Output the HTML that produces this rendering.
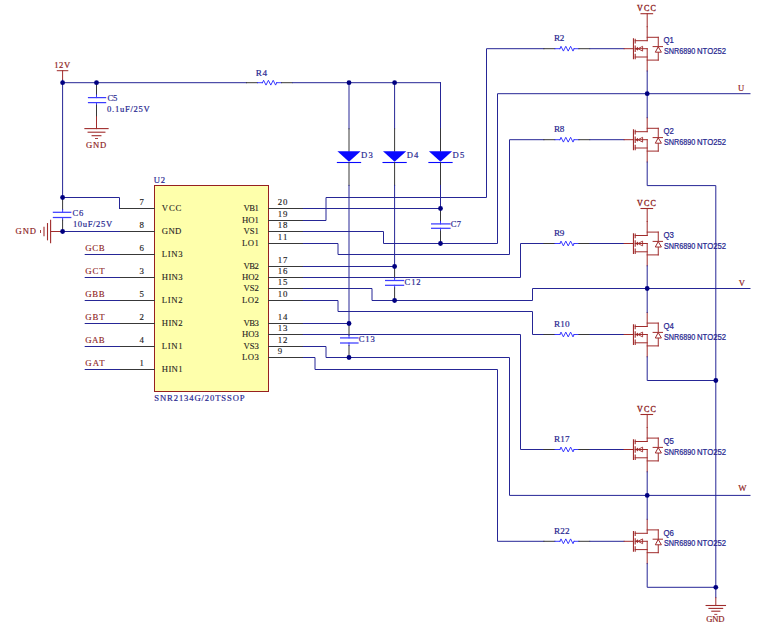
<!DOCTYPE html>
<html><head><meta charset="utf-8"><style>
html,body{margin:0;padding:0;background:#fff;}
svg{display:block;}
</style></head><body>
<svg width="763" height="631" viewBox="0 0 763 631">
<rect width="763" height="631" fill="#ffffff"/>
<text x="54.3" y="67.9" fill="#8c2020" font-size="8.6" font-family="Liberation Serif" textLength="15.8" lengthAdjust="spacing" stroke="#8c2020" stroke-width="0.18">12V</text>
<line x1="57.3" y1="70.7" x2="67.8" y2="70.7" stroke="#a02c2c" stroke-width="1.0" stroke-linecap="square"/>
<line x1="62.6" y1="70.7" x2="62.6" y2="80.2" stroke="#a02c2c" stroke-width="1.0" stroke-linecap="square"/>
<line x1="62.6" y1="80.2" x2="62.6" y2="82.7" stroke="#262696" stroke-width="1.0" stroke-linecap="square"/>
<line x1="62.6" y1="82.7" x2="246.5" y2="82.7" stroke="#262696" stroke-width="1.0" stroke-linecap="square"/>
<line x1="246.5" y1="82.7" x2="257.5" y2="82.7" stroke="#383838" stroke-width="1.0" stroke-linecap="square"/>
<line x1="257.5" y1="82.7" x2="262.5" y2="82.7" stroke="#2424ff" stroke-width="0.9" stroke-linecap="square"/>
<polyline points="262.5,82.7 263.6,80.3 266.0,85.10000000000001 268.4,80.3 270.8,85.10000000000001 273.2,80.3 275.6,85.10000000000001 276.7,82.7" fill="none" stroke="#2424ff" stroke-width="0.9" stroke-linejoin="miter" stroke-linecap="square"/>
<line x1="276.7" y1="82.7" x2="281.5" y2="82.7" stroke="#2424ff" stroke-width="0.9" stroke-linecap="square"/>
<line x1="281.5" y1="82.7" x2="292.3" y2="82.7" stroke="#383838" stroke-width="1.0" stroke-linecap="square"/>
<line x1="292.6" y1="82.7" x2="440.5" y2="82.7" stroke="#262696" stroke-width="1.0" stroke-linecap="square"/>
<text x="255.7" y="75.8" fill="#26268f" font-size="9.2" font-family="Liberation Serif" textLength="11.3" lengthAdjust="spacing" stroke="#26268f" stroke-width="0.18">R4</text>
<line x1="62.6" y1="82.7" x2="62.6" y2="197.5" stroke="#262696" stroke-width="1.0" stroke-linecap="square"/>
<line x1="96.5" y1="82.7" x2="96.5" y2="95.0" stroke="#383838" stroke-width="1.0" stroke-linecap="square"/>
<line x1="96.5" y1="95.0" x2="96.5" y2="97.6" stroke="#2424ff" stroke-width="0.9" stroke-linecap="square"/>
<line x1="96.5" y1="102.6" x2="96.5" y2="105.19999999999999" stroke="#2424ff" stroke-width="0.9" stroke-linecap="square"/>
<line x1="96.5" y1="105.19999999999999" x2="96.5" y2="116.8" stroke="#383838" stroke-width="1.0" stroke-linecap="square"/>
<line x1="87.9" y1="97.6" x2="106.2" y2="97.6" stroke="#3c3cff" stroke-width="1.25" stroke-linecap="butt"/>
<line x1="87.9" y1="102.6" x2="106.2" y2="102.6" stroke="#3c3cff" stroke-width="1.25" stroke-linecap="butt"/>
<line x1="96.5" y1="116.8" x2="96.5" y2="128.6" stroke="#a02c2c" stroke-width="1.0" stroke-linecap="square"/>
<line x1="84.9" y1="128.6" x2="108.1" y2="128.6" stroke="#a02c2c" stroke-width="1.1" stroke-linecap="square"/>
<line x1="88.1" y1="132.2" x2="104.9" y2="132.2" stroke="#a02c2c" stroke-width="1.1" stroke-linecap="square"/>
<line x1="92.1" y1="135.7" x2="100.9" y2="135.7" stroke="#a02c2c" stroke-width="1.1" stroke-linecap="square"/>
<line x1="95.5" y1="138.5" x2="97.5" y2="138.5" stroke="#a02c2c" stroke-width="0.9" stroke-linecap="square"/>
<text x="85.9" y="148.4" fill="#8c2020" font-size="8.6" font-family="Liberation Serif" textLength="20.3" lengthAdjust="spacing" stroke="#8c2020" stroke-width="0.18">GND</text>
<text x="107.4" y="101.3" fill="#26268f" font-size="8.6" font-family="Liberation Serif" textLength="9.9" lengthAdjust="spacing" stroke="#26268f" stroke-width="0.18">C5</text>
<text x="107.0" y="112.4" fill="#26268f" font-size="8.6" font-family="Liberation Serif" textLength="42.8" lengthAdjust="spacing" stroke="#26268f" stroke-width="0.18">0.1uF/25V</text>
<line x1="62.6" y1="197.5" x2="62.6" y2="209.70000000000002" stroke="#383838" stroke-width="1.0" stroke-linecap="square"/>
<line x1="62.6" y1="209.70000000000002" x2="62.6" y2="212.3" stroke="#2424ff" stroke-width="0.9" stroke-linecap="square"/>
<line x1="62.6" y1="217.5" x2="62.6" y2="220.1" stroke="#2424ff" stroke-width="0.9" stroke-linecap="square"/>
<line x1="62.6" y1="220.1" x2="62.6" y2="231.5" stroke="#383838" stroke-width="1.0" stroke-linecap="square"/>
<line x1="52.8" y1="212.3" x2="71.4" y2="212.3" stroke="#3c3cff" stroke-width="1.25" stroke-linecap="butt"/>
<line x1="52.8" y1="217.5" x2="71.4" y2="217.5" stroke="#3c3cff" stroke-width="1.25" stroke-linecap="butt"/>
<line x1="62.6" y1="231.5" x2="51" y2="231.5" stroke="#a02c2c" stroke-width="1.0" stroke-linecap="square"/>
<line x1="50.6" y1="220.3" x2="50.6" y2="242.8" stroke="#a02c2c" stroke-width="1.1" stroke-linecap="square"/>
<line x1="47.5" y1="223.6" x2="47.5" y2="239.8" stroke="#a02c2c" stroke-width="1.1" stroke-linecap="square"/>
<line x1="44.0" y1="227.2" x2="44.0" y2="235.8" stroke="#a02c2c" stroke-width="1.1" stroke-linecap="square"/>
<line x1="40.5" y1="230.5" x2="40.5" y2="232.5" stroke="#a02c2c" stroke-width="0.9" stroke-linecap="square"/>
<text x="15.5" y="234.4" fill="#8c2020" font-size="8.6" font-family="Liberation Serif" textLength="20.5" lengthAdjust="spacing" stroke="#8c2020" stroke-width="0.18">GND</text>
<text x="72.6" y="216.4" fill="#26268f" font-size="8.6" font-family="Liberation Serif" textLength="10.8" lengthAdjust="spacing" stroke="#26268f" stroke-width="0.18">C6</text>
<text x="72.9" y="227.4" fill="#26268f" font-size="8.6" font-family="Liberation Serif" textLength="39.3" lengthAdjust="spacing" stroke="#26268f" stroke-width="0.18">10uF/25V</text>
<rect x="154.5" y="185.5" width="114" height="206" fill="#feffab" stroke="#962020" stroke-width="1.0"/>
<text x="153.8" y="183.2" fill="#26268f" font-size="8.6" font-family="Liberation Serif" textLength="11.2" lengthAdjust="spacing" stroke="#26268f" stroke-width="0.18">U2</text>
<text x="154.3" y="401.4" fill="#26268f" font-size="8.6" font-family="Liberation Serif" textLength="90.3" lengthAdjust="spacing" stroke="#26268f" stroke-width="0.18">SNR2134G/20TSSOP</text>
<line x1="119.5" y1="208.5" x2="154.5" y2="208.5" stroke="#383838" stroke-width="1.0" stroke-linecap="square"/>
<text x="161.8" y="211.1" fill="#1e1e1e" font-size="8.7" font-family="Liberation Serif" textLength="19.6" lengthAdjust="spacing" stroke="#1e1e1e" stroke-width="0.12">VCC</text>
<text x="139.5" y="205.3" fill="#1e1e1e" font-size="8.8" font-family="Liberation Serif" stroke="#1e1e1e" stroke-width="0.15">7</text>
<line x1="119.5" y1="231.5" x2="154.5" y2="231.5" stroke="#383838" stroke-width="1.0" stroke-linecap="square"/>
<text x="161.8" y="234.1" fill="#1e1e1e" font-size="8.7" font-family="Liberation Serif" textLength="19.6" lengthAdjust="spacing" stroke="#1e1e1e" stroke-width="0.12">GND</text>
<text x="139.5" y="228.3" fill="#1e1e1e" font-size="8.8" font-family="Liberation Serif" stroke="#1e1e1e" stroke-width="0.15">8</text>
<line x1="119.5" y1="254.5" x2="154.5" y2="254.5" stroke="#383838" stroke-width="1.0" stroke-linecap="square"/>
<text x="161.8" y="257.1" fill="#1e1e1e" font-size="8.7" font-family="Liberation Serif" textLength="20.7" lengthAdjust="spacing" stroke="#1e1e1e" stroke-width="0.12">LIN3</text>
<text x="139.5" y="251.3" fill="#1e1e1e" font-size="8.8" font-family="Liberation Serif" stroke="#1e1e1e" stroke-width="0.15">6</text>
<line x1="85.2" y1="254.5" x2="119.5" y2="254.5" stroke="#262696" stroke-width="1.0" stroke-linecap="square"/>
<text x="85.2" y="251.2" fill="#8c2020" font-size="8.8" font-family="Liberation Serif" textLength="19.5" lengthAdjust="spacing" stroke="#8c2020" stroke-width="0.1">GCB</text>
<line x1="119.5" y1="277.5" x2="154.5" y2="277.5" stroke="#383838" stroke-width="1.0" stroke-linecap="square"/>
<text x="161.8" y="280.1" fill="#1e1e1e" font-size="8.7" font-family="Liberation Serif" textLength="20.7" lengthAdjust="spacing" stroke="#1e1e1e" stroke-width="0.12">HIN3</text>
<text x="139.5" y="274.3" fill="#1e1e1e" font-size="8.8" font-family="Liberation Serif" stroke="#1e1e1e" stroke-width="0.15">3</text>
<line x1="85.2" y1="277.5" x2="119.5" y2="277.5" stroke="#262696" stroke-width="1.0" stroke-linecap="square"/>
<text x="85.2" y="274.2" fill="#8c2020" font-size="8.8" font-family="Liberation Serif" textLength="19.5" lengthAdjust="spacing" stroke="#8c2020" stroke-width="0.1">GCT</text>
<line x1="119.5" y1="300.5" x2="154.5" y2="300.5" stroke="#383838" stroke-width="1.0" stroke-linecap="square"/>
<text x="161.8" y="303.1" fill="#1e1e1e" font-size="8.7" font-family="Liberation Serif" textLength="20.7" lengthAdjust="spacing" stroke="#1e1e1e" stroke-width="0.12">LIN2</text>
<text x="139.5" y="297.3" fill="#1e1e1e" font-size="8.8" font-family="Liberation Serif" stroke="#1e1e1e" stroke-width="0.15">5</text>
<line x1="85.2" y1="300.5" x2="119.5" y2="300.5" stroke="#262696" stroke-width="1.0" stroke-linecap="square"/>
<text x="85.2" y="297.2" fill="#8c2020" font-size="8.8" font-family="Liberation Serif" textLength="19.5" lengthAdjust="spacing" stroke="#8c2020" stroke-width="0.1">GBB</text>
<line x1="119.5" y1="323.5" x2="154.5" y2="323.5" stroke="#383838" stroke-width="1.0" stroke-linecap="square"/>
<text x="161.8" y="326.1" fill="#1e1e1e" font-size="8.7" font-family="Liberation Serif" textLength="20.7" lengthAdjust="spacing" stroke="#1e1e1e" stroke-width="0.12">HIN2</text>
<text x="139.5" y="320.3" fill="#1e1e1e" font-size="8.8" font-family="Liberation Serif" stroke="#1e1e1e" stroke-width="0.15">2</text>
<line x1="85.2" y1="323.5" x2="119.5" y2="323.5" stroke="#262696" stroke-width="1.0" stroke-linecap="square"/>
<text x="85.2" y="320.2" fill="#8c2020" font-size="8.8" font-family="Liberation Serif" textLength="19.5" lengthAdjust="spacing" stroke="#8c2020" stroke-width="0.1">GBT</text>
<line x1="119.5" y1="346.5" x2="154.5" y2="346.5" stroke="#383838" stroke-width="1.0" stroke-linecap="square"/>
<text x="161.8" y="349.1" fill="#1e1e1e" font-size="8.7" font-family="Liberation Serif" textLength="20.7" lengthAdjust="spacing" stroke="#1e1e1e" stroke-width="0.12">LIN1</text>
<text x="139.5" y="343.3" fill="#1e1e1e" font-size="8.8" font-family="Liberation Serif" stroke="#1e1e1e" stroke-width="0.15">4</text>
<line x1="85.2" y1="346.5" x2="119.5" y2="346.5" stroke="#262696" stroke-width="1.0" stroke-linecap="square"/>
<text x="85.2" y="343.2" fill="#8c2020" font-size="8.8" font-family="Liberation Serif" textLength="19.5" lengthAdjust="spacing" stroke="#8c2020" stroke-width="0.1">GAB</text>
<line x1="119.5" y1="369.5" x2="154.5" y2="369.5" stroke="#383838" stroke-width="1.0" stroke-linecap="square"/>
<text x="161.8" y="372.1" fill="#1e1e1e" font-size="8.7" font-family="Liberation Serif" textLength="20.7" lengthAdjust="spacing" stroke="#1e1e1e" stroke-width="0.12">HIN1</text>
<text x="139.5" y="366.3" fill="#1e1e1e" font-size="8.8" font-family="Liberation Serif" stroke="#1e1e1e" stroke-width="0.15">1</text>
<line x1="85.2" y1="369.5" x2="119.5" y2="369.5" stroke="#262696" stroke-width="1.0" stroke-linecap="square"/>
<text x="85.2" y="366.2" fill="#8c2020" font-size="8.8" font-family="Liberation Serif" textLength="19.5" lengthAdjust="spacing" stroke="#8c2020" stroke-width="0.1">GAT</text>
<polyline points="62.6,197.5 119.5,197.5 119.5,208.5" fill="none" stroke="#262696" stroke-width="1.0" stroke-linejoin="miter" stroke-linecap="square"/>
<line x1="62.6" y1="231.5" x2="119.5" y2="231.5" stroke="#262696" stroke-width="1.0" stroke-linecap="square"/>
<line x1="268.5" y1="208.5" x2="303.3" y2="208.5" stroke="#383838" stroke-width="1.0" stroke-linecap="square"/>
<text x="258.9" y="211.1" fill="#1e1e1e" font-size="8.7" font-family="Liberation Serif" text-anchor="end" textLength="15.3" lengthAdjust="spacing" stroke="#1e1e1e" stroke-width="0.12">VB1</text>
<text x="277.8" y="205.2" fill="#1e1e1e" font-size="8.8" font-family="Liberation Serif" textLength="9.7" lengthAdjust="spacing" stroke="#1e1e1e" stroke-width="0.15">20</text>
<line x1="268.5" y1="220.5" x2="303.3" y2="220.5" stroke="#383838" stroke-width="1.0" stroke-linecap="square"/>
<text x="258.9" y="223.1" fill="#1e1e1e" font-size="8.7" font-family="Liberation Serif" text-anchor="end" textLength="17.0" lengthAdjust="spacing" stroke="#1e1e1e" stroke-width="0.12">HO1</text>
<text x="277.8" y="217.2" fill="#1e1e1e" font-size="8.8" font-family="Liberation Serif" textLength="9.7" lengthAdjust="spacing" stroke="#1e1e1e" stroke-width="0.15">19</text>
<line x1="268.5" y1="231.5" x2="303.3" y2="231.5" stroke="#383838" stroke-width="1.0" stroke-linecap="square"/>
<text x="258.9" y="234.1" fill="#1e1e1e" font-size="8.7" font-family="Liberation Serif" text-anchor="end" textLength="15.3" lengthAdjust="spacing" stroke="#1e1e1e" stroke-width="0.12">VS1</text>
<text x="277.8" y="228.2" fill="#1e1e1e" font-size="8.8" font-family="Liberation Serif" textLength="9.7" lengthAdjust="spacing" stroke="#1e1e1e" stroke-width="0.15">18</text>
<line x1="268.5" y1="243.5" x2="303.3" y2="243.5" stroke="#383838" stroke-width="1.0" stroke-linecap="square"/>
<text x="258.9" y="246.1" fill="#1e1e1e" font-size="8.7" font-family="Liberation Serif" text-anchor="end" textLength="17.0" lengthAdjust="spacing" stroke="#1e1e1e" stroke-width="0.12">LO1</text>
<text x="277.8" y="240.2" fill="#1e1e1e" font-size="8.8" font-family="Liberation Serif" textLength="9.7" lengthAdjust="spacing" stroke="#1e1e1e" stroke-width="0.15">11</text>
<line x1="268.5" y1="266.5" x2="303.3" y2="266.5" stroke="#383838" stroke-width="1.0" stroke-linecap="square"/>
<text x="258.9" y="269.1" fill="#1e1e1e" font-size="8.7" font-family="Liberation Serif" text-anchor="end" textLength="15.3" lengthAdjust="spacing" stroke="#1e1e1e" stroke-width="0.12">VB2</text>
<text x="277.8" y="263.2" fill="#1e1e1e" font-size="8.8" font-family="Liberation Serif" textLength="9.7" lengthAdjust="spacing" stroke="#1e1e1e" stroke-width="0.15">17</text>
<line x1="268.5" y1="277.5" x2="303.3" y2="277.5" stroke="#383838" stroke-width="1.0" stroke-linecap="square"/>
<text x="258.9" y="280.1" fill="#1e1e1e" font-size="8.7" font-family="Liberation Serif" text-anchor="end" textLength="17.0" lengthAdjust="spacing" stroke="#1e1e1e" stroke-width="0.12">HO2</text>
<text x="277.8" y="274.2" fill="#1e1e1e" font-size="8.8" font-family="Liberation Serif" textLength="9.7" lengthAdjust="spacing" stroke="#1e1e1e" stroke-width="0.15">16</text>
<line x1="268.5" y1="288.5" x2="303.3" y2="288.5" stroke="#383838" stroke-width="1.0" stroke-linecap="square"/>
<text x="258.9" y="291.1" fill="#1e1e1e" font-size="8.7" font-family="Liberation Serif" text-anchor="end" textLength="15.3" lengthAdjust="spacing" stroke="#1e1e1e" stroke-width="0.12">VS2</text>
<text x="277.8" y="285.2" fill="#1e1e1e" font-size="8.8" font-family="Liberation Serif" textLength="9.7" lengthAdjust="spacing" stroke="#1e1e1e" stroke-width="0.15">15</text>
<line x1="268.5" y1="300.5" x2="303.3" y2="300.5" stroke="#383838" stroke-width="1.0" stroke-linecap="square"/>
<text x="258.9" y="303.1" fill="#1e1e1e" font-size="8.7" font-family="Liberation Serif" text-anchor="end" textLength="17.0" lengthAdjust="spacing" stroke="#1e1e1e" stroke-width="0.12">LO2</text>
<text x="277.8" y="297.2" fill="#1e1e1e" font-size="8.8" font-family="Liberation Serif" textLength="9.7" lengthAdjust="spacing" stroke="#1e1e1e" stroke-width="0.15">10</text>
<line x1="268.5" y1="323.5" x2="303.3" y2="323.5" stroke="#383838" stroke-width="1.0" stroke-linecap="square"/>
<text x="258.9" y="326.1" fill="#1e1e1e" font-size="8.7" font-family="Liberation Serif" text-anchor="end" textLength="15.3" lengthAdjust="spacing" stroke="#1e1e1e" stroke-width="0.12">VB3</text>
<text x="277.8" y="320.2" fill="#1e1e1e" font-size="8.8" font-family="Liberation Serif" textLength="9.7" lengthAdjust="spacing" stroke="#1e1e1e" stroke-width="0.15">14</text>
<line x1="268.5" y1="334.5" x2="303.3" y2="334.5" stroke="#383838" stroke-width="1.0" stroke-linecap="square"/>
<text x="258.9" y="337.1" fill="#1e1e1e" font-size="8.7" font-family="Liberation Serif" text-anchor="end" textLength="17.0" lengthAdjust="spacing" stroke="#1e1e1e" stroke-width="0.12">HO3</text>
<text x="277.8" y="331.2" fill="#1e1e1e" font-size="8.8" font-family="Liberation Serif" textLength="9.7" lengthAdjust="spacing" stroke="#1e1e1e" stroke-width="0.15">13</text>
<line x1="268.5" y1="346.5" x2="303.3" y2="346.5" stroke="#383838" stroke-width="1.0" stroke-linecap="square"/>
<text x="258.9" y="349.1" fill="#1e1e1e" font-size="8.7" font-family="Liberation Serif" text-anchor="end" textLength="15.3" lengthAdjust="spacing" stroke="#1e1e1e" stroke-width="0.12">VS3</text>
<text x="277.8" y="343.2" fill="#1e1e1e" font-size="8.8" font-family="Liberation Serif" textLength="9.7" lengthAdjust="spacing" stroke="#1e1e1e" stroke-width="0.15">12</text>
<line x1="268.5" y1="357.5" x2="303.3" y2="357.5" stroke="#383838" stroke-width="1.0" stroke-linecap="square"/>
<text x="258.9" y="360.1" fill="#1e1e1e" font-size="8.7" font-family="Liberation Serif" text-anchor="end" textLength="17.0" lengthAdjust="spacing" stroke="#1e1e1e" stroke-width="0.12">LO3</text>
<text x="277.8" y="354.2" fill="#1e1e1e" font-size="8.8" font-family="Liberation Serif" stroke="#1e1e1e" stroke-width="0.15">9</text>
<polyline points="303.3,208.5 440.5,208.5" fill="none" stroke="#262696" stroke-width="1.0" stroke-linejoin="miter" stroke-linecap="square"/>
<polyline points="303.3,220.5 326,220.5 326,197.5 486.5,197.5 486.5,48.7 543.9,48.7" fill="none" stroke="#262696" stroke-width="1.0" stroke-linejoin="miter" stroke-linecap="square"/>
<polyline points="303.3,231.5 383.5,231.5 383.5,243.5 497.5,243.5 497.5,93.7 750,93.7" fill="none" stroke="#262696" stroke-width="1.0" stroke-linejoin="miter" stroke-linecap="square"/>
<polyline points="303.3,243.5 338,243.5 338,254.5 509.5,254.5 509.5,139.7 543.9,139.7" fill="none" stroke="#262696" stroke-width="1.0" stroke-linejoin="miter" stroke-linecap="square"/>
<polyline points="303.3,266.5 394.6,266.5" fill="none" stroke="#262696" stroke-width="1.0" stroke-linejoin="miter" stroke-linecap="square"/>
<polyline points="303.3,277.5 520.5,277.5 520.5,243.5 543.9,243.5" fill="none" stroke="#262696" stroke-width="1.0" stroke-linejoin="miter" stroke-linecap="square"/>
<polyline points="303.3,288.5 372,288.5 372,300.5 532.5,300.5 532.5,288.5 750,288.5" fill="none" stroke="#262696" stroke-width="1.0" stroke-linejoin="miter" stroke-linecap="square"/>
<polyline points="303.3,300.5 338,300.5 338,311.5 532.5,311.5 532.5,334.5 543.9,334.5" fill="none" stroke="#262696" stroke-width="1.0" stroke-linejoin="miter" stroke-linecap="square"/>
<polyline points="303.3,323.5 349,323.5" fill="none" stroke="#262696" stroke-width="1.0" stroke-linejoin="miter" stroke-linecap="square"/>
<polyline points="303.3,334.5 520.5,334.5 520.5,449.5 543.9,449.5" fill="none" stroke="#262696" stroke-width="1.0" stroke-linejoin="miter" stroke-linecap="square"/>
<polyline points="303.3,346.5 326,346.5 326,357.5 509.5,357.5 509.5,495.4 750,495.4" fill="none" stroke="#262696" stroke-width="1.0" stroke-linejoin="miter" stroke-linecap="square"/>
<polyline points="303.3,357.5 315,357.5 315,369.5 497.5,369.5 497.5,541.3 543.9,541.3" fill="none" stroke="#262696" stroke-width="1.0" stroke-linejoin="miter" stroke-linecap="square"/>
<line x1="349" y1="82.7" x2="349" y2="128.8" stroke="#262696" stroke-width="1.0" stroke-linecap="square"/>
<line x1="349" y1="128.8" x2="349" y2="151.4" stroke="#383838" stroke-width="1.0" stroke-linecap="square"/>
<polygon points="337.4,151.3 360.6,151.3 349,161.8" fill="#0808ff"/>
<line x1="337.4" y1="162.5" x2="360.6" y2="162.5" stroke="#0808ff" stroke-width="1.1" stroke-linecap="square"/>
<line x1="349" y1="162.5" x2="349" y2="185.4" stroke="#383838" stroke-width="1.0" stroke-linecap="square"/>
<text x="361.1" y="158.4" fill="#26268f" font-size="8.6" font-family="Liberation Serif" textLength="11.6" lengthAdjust="spacing" stroke="#26268f" stroke-width="0.18">D3</text>
<line x1="394.6" y1="82.7" x2="394.6" y2="128.8" stroke="#262696" stroke-width="1.0" stroke-linecap="square"/>
<line x1="394.6" y1="128.8" x2="394.6" y2="151.4" stroke="#383838" stroke-width="1.0" stroke-linecap="square"/>
<polygon points="383.0,151.3 406.20000000000005,151.3 394.6,161.8" fill="#0808ff"/>
<line x1="383.0" y1="162.5" x2="406.20000000000005" y2="162.5" stroke="#0808ff" stroke-width="1.1" stroke-linecap="square"/>
<line x1="394.6" y1="162.5" x2="394.6" y2="185.4" stroke="#383838" stroke-width="1.0" stroke-linecap="square"/>
<text x="406.70000000000005" y="158.4" fill="#26268f" font-size="8.6" font-family="Liberation Serif" textLength="11.6" lengthAdjust="spacing" stroke="#26268f" stroke-width="0.18">D4</text>
<line x1="440.5" y1="82.7" x2="440.5" y2="128.8" stroke="#262696" stroke-width="1.0" stroke-linecap="square"/>
<line x1="440.5" y1="128.8" x2="440.5" y2="151.4" stroke="#383838" stroke-width="1.0" stroke-linecap="square"/>
<polygon points="428.9,151.3 452.1,151.3 440.5,161.8" fill="#0808ff"/>
<line x1="428.9" y1="162.5" x2="452.1" y2="162.5" stroke="#0808ff" stroke-width="1.1" stroke-linecap="square"/>
<line x1="440.5" y1="162.5" x2="440.5" y2="185.4" stroke="#383838" stroke-width="1.0" stroke-linecap="square"/>
<text x="452.6" y="158.4" fill="#26268f" font-size="8.6" font-family="Liberation Serif" textLength="11.6" lengthAdjust="spacing" stroke="#26268f" stroke-width="0.18">D5</text>
<line x1="349" y1="185.4" x2="349" y2="323.5" stroke="#262696" stroke-width="1.0" stroke-linecap="square"/>
<line x1="349" y1="323.5" x2="349" y2="335.29999999999995" stroke="#383838" stroke-width="1.0" stroke-linecap="square"/>
<line x1="349" y1="335.29999999999995" x2="349" y2="337.9" stroke="#2424ff" stroke-width="0.9" stroke-linecap="square"/>
<line x1="349" y1="343.0" x2="349" y2="345.6" stroke="#2424ff" stroke-width="0.9" stroke-linecap="square"/>
<line x1="349" y1="345.6" x2="349" y2="357.5" stroke="#383838" stroke-width="1.0" stroke-linecap="square"/>
<line x1="340.0" y1="337.9" x2="358.6" y2="337.9" stroke="#3c3cff" stroke-width="1.25" stroke-linecap="butt"/>
<line x1="340.0" y1="343.0" x2="358.6" y2="343.0" stroke="#3c3cff" stroke-width="1.25" stroke-linecap="butt"/>
<text x="358.8" y="342.4" fill="#26268f" font-size="8.6" font-family="Liberation Serif" textLength="16" lengthAdjust="spacing" stroke="#26268f" stroke-width="0.18">C13</text>
<line x1="394.6" y1="185.4" x2="394.6" y2="266.5" stroke="#262696" stroke-width="1.0" stroke-linecap="square"/>
<line x1="394.6" y1="266.5" x2="394.6" y2="277.9" stroke="#383838" stroke-width="1.0" stroke-linecap="square"/>
<line x1="394.6" y1="277.9" x2="394.6" y2="280.5" stroke="#2424ff" stroke-width="0.9" stroke-linecap="square"/>
<line x1="394.6" y1="285.3" x2="394.6" y2="287.90000000000003" stroke="#2424ff" stroke-width="0.9" stroke-linecap="square"/>
<line x1="394.6" y1="287.90000000000003" x2="394.6" y2="300.5" stroke="#383838" stroke-width="1.0" stroke-linecap="square"/>
<line x1="385.0" y1="280.5" x2="404.2" y2="280.5" stroke="#3c3cff" stroke-width="1.25" stroke-linecap="butt"/>
<line x1="385.0" y1="285.3" x2="404.2" y2="285.3" stroke="#3c3cff" stroke-width="1.25" stroke-linecap="butt"/>
<text x="404.6" y="284.9" fill="#26268f" font-size="8.6" font-family="Liberation Serif" textLength="16" lengthAdjust="spacing" stroke="#26268f" stroke-width="0.18">C12</text>
<line x1="440.5" y1="185.4" x2="440.5" y2="208.5" stroke="#262696" stroke-width="1.0" stroke-linecap="square"/>
<line x1="440.5" y1="208.5" x2="440.5" y2="221.3" stroke="#383838" stroke-width="1.0" stroke-linecap="square"/>
<line x1="440.5" y1="221.3" x2="440.5" y2="223.9" stroke="#2424ff" stroke-width="0.9" stroke-linecap="square"/>
<line x1="440.5" y1="228.3" x2="440.5" y2="230.9" stroke="#2424ff" stroke-width="0.9" stroke-linecap="square"/>
<line x1="440.5" y1="230.9" x2="440.5" y2="243.5" stroke="#383838" stroke-width="1.0" stroke-linecap="square"/>
<line x1="431.0" y1="223.9" x2="450.6" y2="223.9" stroke="#3c3cff" stroke-width="1.25" stroke-linecap="butt"/>
<line x1="431.0" y1="228.3" x2="450.6" y2="228.3" stroke="#3c3cff" stroke-width="1.25" stroke-linecap="butt"/>
<text x="450.7" y="227.0" fill="#26268f" font-size="8.6" font-family="Liberation Serif" textLength="10.4" lengthAdjust="spacing" stroke="#26268f" stroke-width="0.18">C7</text>
<line x1="543.9" y1="48.7" x2="554.9" y2="48.7" stroke="#383838" stroke-width="1.0" stroke-linecap="square"/>
<line x1="554.9" y1="48.7" x2="559.9" y2="48.7" stroke="#2424ff" stroke-width="0.9" stroke-linecap="square"/>
<polyline points="559.9,48.7 561.0,46.300000000000004 563.4,51.1 565.8,46.300000000000004 568.1999999999999,51.1 570.6,46.300000000000004 573.0,51.1 574.1,48.7" fill="none" stroke="#2424ff" stroke-width="0.9" stroke-linejoin="miter" stroke-linecap="square"/>
<line x1="574.1" y1="48.7" x2="578.9" y2="48.7" stroke="#2424ff" stroke-width="0.9" stroke-linecap="square"/>
<line x1="578.9" y1="48.7" x2="589.6999999999999" y2="48.7" stroke="#383838" stroke-width="1.0" stroke-linecap="square"/>
<line x1="590" y1="48.7" x2="624.1" y2="48.7" stroke="#262696" stroke-width="1.0" stroke-linecap="square"/>
<line x1="624.1" y1="48.7" x2="633.45" y2="48.7" stroke="#a02c2c" stroke-width="1.0" stroke-linecap="square"/>
<line x1="633.45" y1="38.900000000000006" x2="633.45" y2="58.7" stroke="#a02c2c" stroke-width="1.1" stroke-linecap="square"/>
<line x1="635.2" y1="39.2" x2="635.2" y2="42.900000000000006" stroke="#a02c2c" stroke-width="1.1" stroke-linecap="square"/>
<line x1="635.2" y1="46.1" x2="635.2" y2="51.400000000000006" stroke="#a02c2c" stroke-width="1.1" stroke-linecap="square"/>
<line x1="635.2" y1="54.300000000000004" x2="635.2" y2="58.6" stroke="#a02c2c" stroke-width="1.1" stroke-linecap="square"/>
<line x1="647.2" y1="26.700000000000003" x2="647.2" y2="40.7" stroke="#a02c2c" stroke-width="1.0" stroke-linecap="square"/>
<line x1="635.2" y1="40.7" x2="647.2" y2="40.7" stroke="#a02c2c" stroke-width="1.0" stroke-linecap="square"/>
<line x1="647.2" y1="37.300000000000004" x2="658.25" y2="37.300000000000004" stroke="#a02c2c" stroke-width="1.0" stroke-linecap="square"/>
<line x1="635.2" y1="48.7" x2="647.2" y2="48.7" stroke="#a02c2c" stroke-width="1.0" stroke-linecap="square"/>
<line x1="647.2" y1="48.7" x2="647.2" y2="71.0" stroke="#a02c2c" stroke-width="1.0" stroke-linecap="square"/>
<line x1="635.2" y1="57.0" x2="647.2" y2="57.0" stroke="#a02c2c" stroke-width="1.0" stroke-linecap="square"/>
<line x1="647.2" y1="60.1" x2="658.25" y2="60.1" stroke="#a02c2c" stroke-width="1.0" stroke-linecap="square"/>
<line x1="658.25" y1="37.300000000000004" x2="658.25" y2="60.1" stroke="#a02c2c" stroke-width="1.0" stroke-linecap="square"/>
<line x1="653.1" y1="46.6" x2="662.5" y2="46.6" stroke="#a02c2c" stroke-width="1.0" stroke-linecap="square"/>
<polygon points="658.25,46.800000000000004 655.3000000000001,52.2 661.4000000000001,52.2" fill="#ffffff" stroke="#a02c2c" stroke-width="1.0"/>
<polygon points="635.4000000000001,48.7 638.0,46.7 638.0,50.7" fill="#a02c2c"/>
<polygon points="638.0,48.7 642.6,46.300000000000004 642.6,51.1" fill="none" stroke="#a02c2c" stroke-width="0.9"/>
<text x="663.4" y="43.1" fill="#26268f" font-size="8.6" font-family="Liberation Sans" textLength="10.4" lengthAdjust="spacingAndGlyphs" stroke="#26268f" stroke-width="0.22">Q1</text>
<text x="663.9" y="53.7" fill="#26268f" font-size="8.8" font-family="Liberation Sans" textLength="31.4" lengthAdjust="spacingAndGlyphs" stroke="#26268f" stroke-width="0.22">SNR6890</text>
<text x="697.0" y="53.7" fill="#26268f" font-size="8.8" font-family="Liberation Sans" textLength="29.1" lengthAdjust="spacingAndGlyphs" stroke="#26268f" stroke-width="0.22">NTO252</text>
<text x="554.0" y="41.400000000000006" fill="#26268f" font-size="9.2" font-family="Liberation Serif" textLength="10.3" lengthAdjust="spacing" stroke="#26268f" stroke-width="0.18">R2</text>
<line x1="543.9" y1="139.7" x2="554.9" y2="139.7" stroke="#383838" stroke-width="1.0" stroke-linecap="square"/>
<line x1="554.9" y1="139.7" x2="559.9" y2="139.7" stroke="#2424ff" stroke-width="0.9" stroke-linecap="square"/>
<polyline points="559.9,139.7 561.0,137.29999999999998 563.4,142.1 565.8,137.29999999999998 568.1999999999999,142.1 570.6,137.29999999999998 573.0,142.1 574.1,139.7" fill="none" stroke="#2424ff" stroke-width="0.9" stroke-linejoin="miter" stroke-linecap="square"/>
<line x1="574.1" y1="139.7" x2="578.9" y2="139.7" stroke="#2424ff" stroke-width="0.9" stroke-linecap="square"/>
<line x1="578.9" y1="139.7" x2="589.6999999999999" y2="139.7" stroke="#383838" stroke-width="1.0" stroke-linecap="square"/>
<line x1="590" y1="139.7" x2="624.1" y2="139.7" stroke="#262696" stroke-width="1.0" stroke-linecap="square"/>
<line x1="624.1" y1="139.7" x2="633.45" y2="139.7" stroke="#a02c2c" stroke-width="1.0" stroke-linecap="square"/>
<line x1="633.45" y1="129.89999999999998" x2="633.45" y2="149.7" stroke="#a02c2c" stroke-width="1.1" stroke-linecap="square"/>
<line x1="635.2" y1="130.2" x2="635.2" y2="133.89999999999998" stroke="#a02c2c" stroke-width="1.1" stroke-linecap="square"/>
<line x1="635.2" y1="137.1" x2="635.2" y2="142.39999999999998" stroke="#a02c2c" stroke-width="1.1" stroke-linecap="square"/>
<line x1="635.2" y1="145.29999999999998" x2="635.2" y2="149.6" stroke="#a02c2c" stroke-width="1.1" stroke-linecap="square"/>
<line x1="647.2" y1="117.69999999999999" x2="647.2" y2="131.7" stroke="#a02c2c" stroke-width="1.0" stroke-linecap="square"/>
<line x1="635.2" y1="131.7" x2="647.2" y2="131.7" stroke="#a02c2c" stroke-width="1.0" stroke-linecap="square"/>
<line x1="647.2" y1="128.29999999999998" x2="658.25" y2="128.29999999999998" stroke="#a02c2c" stroke-width="1.0" stroke-linecap="square"/>
<line x1="635.2" y1="139.7" x2="647.2" y2="139.7" stroke="#a02c2c" stroke-width="1.0" stroke-linecap="square"/>
<line x1="647.2" y1="139.7" x2="647.2" y2="162.0" stroke="#a02c2c" stroke-width="1.0" stroke-linecap="square"/>
<line x1="635.2" y1="148.0" x2="647.2" y2="148.0" stroke="#a02c2c" stroke-width="1.0" stroke-linecap="square"/>
<line x1="647.2" y1="151.1" x2="658.25" y2="151.1" stroke="#a02c2c" stroke-width="1.0" stroke-linecap="square"/>
<line x1="658.25" y1="128.29999999999998" x2="658.25" y2="151.1" stroke="#a02c2c" stroke-width="1.0" stroke-linecap="square"/>
<line x1="653.1" y1="137.6" x2="662.5" y2="137.6" stroke="#a02c2c" stroke-width="1.0" stroke-linecap="square"/>
<polygon points="658.25,137.79999999999998 655.3000000000001,143.2 661.4000000000001,143.2" fill="#ffffff" stroke="#a02c2c" stroke-width="1.0"/>
<polygon points="635.4000000000001,139.7 638.0,137.7 638.0,141.7" fill="#a02c2c"/>
<polygon points="638.0,139.7 642.6,137.29999999999998 642.6,142.1" fill="none" stroke="#a02c2c" stroke-width="0.9"/>
<text x="663.4" y="134.1" fill="#26268f" font-size="8.6" font-family="Liberation Sans" textLength="10.4" lengthAdjust="spacingAndGlyphs" stroke="#26268f" stroke-width="0.22">Q2</text>
<text x="663.9" y="144.7" fill="#26268f" font-size="8.8" font-family="Liberation Sans" textLength="31.4" lengthAdjust="spacingAndGlyphs" stroke="#26268f" stroke-width="0.22">SNR6890</text>
<text x="697.0" y="144.7" fill="#26268f" font-size="8.8" font-family="Liberation Sans" textLength="29.1" lengthAdjust="spacingAndGlyphs" stroke="#26268f" stroke-width="0.22">NTO252</text>
<text x="554.0" y="132.39999999999998" fill="#26268f" font-size="9.2" font-family="Liberation Serif" textLength="10.3" lengthAdjust="spacing" stroke="#26268f" stroke-width="0.18">R8</text>
<line x1="543.9" y1="243.5" x2="554.9" y2="243.5" stroke="#383838" stroke-width="1.0" stroke-linecap="square"/>
<line x1="554.9" y1="243.5" x2="559.9" y2="243.5" stroke="#2424ff" stroke-width="0.9" stroke-linecap="square"/>
<polyline points="559.9,243.5 561.0,241.1 563.4,245.9 565.8,241.1 568.1999999999999,245.9 570.6,241.1 573.0,245.9 574.1,243.5" fill="none" stroke="#2424ff" stroke-width="0.9" stroke-linejoin="miter" stroke-linecap="square"/>
<line x1="574.1" y1="243.5" x2="578.9" y2="243.5" stroke="#2424ff" stroke-width="0.9" stroke-linecap="square"/>
<line x1="578.9" y1="243.5" x2="589.6999999999999" y2="243.5" stroke="#383838" stroke-width="1.0" stroke-linecap="square"/>
<line x1="590" y1="243.5" x2="624.1" y2="243.5" stroke="#262696" stroke-width="1.0" stroke-linecap="square"/>
<line x1="624.1" y1="243.5" x2="633.45" y2="243.5" stroke="#a02c2c" stroke-width="1.0" stroke-linecap="square"/>
<line x1="633.45" y1="233.7" x2="633.45" y2="253.5" stroke="#a02c2c" stroke-width="1.1" stroke-linecap="square"/>
<line x1="635.2" y1="234.0" x2="635.2" y2="237.7" stroke="#a02c2c" stroke-width="1.1" stroke-linecap="square"/>
<line x1="635.2" y1="240.9" x2="635.2" y2="246.2" stroke="#a02c2c" stroke-width="1.1" stroke-linecap="square"/>
<line x1="635.2" y1="249.1" x2="635.2" y2="253.4" stroke="#a02c2c" stroke-width="1.1" stroke-linecap="square"/>
<line x1="647.2" y1="221.5" x2="647.2" y2="235.5" stroke="#a02c2c" stroke-width="1.0" stroke-linecap="square"/>
<line x1="635.2" y1="235.5" x2="647.2" y2="235.5" stroke="#a02c2c" stroke-width="1.0" stroke-linecap="square"/>
<line x1="647.2" y1="232.1" x2="658.25" y2="232.1" stroke="#a02c2c" stroke-width="1.0" stroke-linecap="square"/>
<line x1="635.2" y1="243.5" x2="647.2" y2="243.5" stroke="#a02c2c" stroke-width="1.0" stroke-linecap="square"/>
<line x1="647.2" y1="243.5" x2="647.2" y2="265.8" stroke="#a02c2c" stroke-width="1.0" stroke-linecap="square"/>
<line x1="635.2" y1="251.8" x2="647.2" y2="251.8" stroke="#a02c2c" stroke-width="1.0" stroke-linecap="square"/>
<line x1="647.2" y1="254.9" x2="658.25" y2="254.9" stroke="#a02c2c" stroke-width="1.0" stroke-linecap="square"/>
<line x1="658.25" y1="232.1" x2="658.25" y2="254.9" stroke="#a02c2c" stroke-width="1.0" stroke-linecap="square"/>
<line x1="653.1" y1="241.4" x2="662.5" y2="241.4" stroke="#a02c2c" stroke-width="1.0" stroke-linecap="square"/>
<polygon points="658.25,241.6 655.3000000000001,247.0 661.4000000000001,247.0" fill="#ffffff" stroke="#a02c2c" stroke-width="1.0"/>
<polygon points="635.4000000000001,243.5 638.0,241.5 638.0,245.5" fill="#a02c2c"/>
<polygon points="638.0,243.5 642.6,241.1 642.6,245.9" fill="none" stroke="#a02c2c" stroke-width="0.9"/>
<text x="663.4" y="237.9" fill="#26268f" font-size="8.6" font-family="Liberation Sans" textLength="10.4" lengthAdjust="spacingAndGlyphs" stroke="#26268f" stroke-width="0.22">Q3</text>
<text x="663.9" y="248.5" fill="#26268f" font-size="8.8" font-family="Liberation Sans" textLength="31.4" lengthAdjust="spacingAndGlyphs" stroke="#26268f" stroke-width="0.22">SNR6890</text>
<text x="697.0" y="248.5" fill="#26268f" font-size="8.8" font-family="Liberation Sans" textLength="29.1" lengthAdjust="spacingAndGlyphs" stroke="#26268f" stroke-width="0.22">NTO252</text>
<text x="554.0" y="236.2" fill="#26268f" font-size="9.2" font-family="Liberation Serif" textLength="10.3" lengthAdjust="spacing" stroke="#26268f" stroke-width="0.18">R9</text>
<line x1="543.9" y1="334.5" x2="554.9" y2="334.5" stroke="#383838" stroke-width="1.0" stroke-linecap="square"/>
<line x1="554.9" y1="334.5" x2="559.9" y2="334.5" stroke="#2424ff" stroke-width="0.9" stroke-linecap="square"/>
<polyline points="559.9,334.5 561.0,332.1 563.4,336.9 565.8,332.1 568.1999999999999,336.9 570.6,332.1 573.0,336.9 574.1,334.5" fill="none" stroke="#2424ff" stroke-width="0.9" stroke-linejoin="miter" stroke-linecap="square"/>
<line x1="574.1" y1="334.5" x2="578.9" y2="334.5" stroke="#2424ff" stroke-width="0.9" stroke-linecap="square"/>
<line x1="578.9" y1="334.5" x2="589.6999999999999" y2="334.5" stroke="#383838" stroke-width="1.0" stroke-linecap="square"/>
<line x1="590" y1="334.5" x2="624.1" y2="334.5" stroke="#262696" stroke-width="1.0" stroke-linecap="square"/>
<line x1="624.1" y1="334.5" x2="633.45" y2="334.5" stroke="#a02c2c" stroke-width="1.0" stroke-linecap="square"/>
<line x1="633.45" y1="324.7" x2="633.45" y2="344.5" stroke="#a02c2c" stroke-width="1.1" stroke-linecap="square"/>
<line x1="635.2" y1="325.0" x2="635.2" y2="328.7" stroke="#a02c2c" stroke-width="1.1" stroke-linecap="square"/>
<line x1="635.2" y1="331.9" x2="635.2" y2="337.2" stroke="#a02c2c" stroke-width="1.1" stroke-linecap="square"/>
<line x1="635.2" y1="340.1" x2="635.2" y2="344.4" stroke="#a02c2c" stroke-width="1.1" stroke-linecap="square"/>
<line x1="647.2" y1="312.5" x2="647.2" y2="326.5" stroke="#a02c2c" stroke-width="1.0" stroke-linecap="square"/>
<line x1="635.2" y1="326.5" x2="647.2" y2="326.5" stroke="#a02c2c" stroke-width="1.0" stroke-linecap="square"/>
<line x1="647.2" y1="323.1" x2="658.25" y2="323.1" stroke="#a02c2c" stroke-width="1.0" stroke-linecap="square"/>
<line x1="635.2" y1="334.5" x2="647.2" y2="334.5" stroke="#a02c2c" stroke-width="1.0" stroke-linecap="square"/>
<line x1="647.2" y1="334.5" x2="647.2" y2="356.8" stroke="#a02c2c" stroke-width="1.0" stroke-linecap="square"/>
<line x1="635.2" y1="342.8" x2="647.2" y2="342.8" stroke="#a02c2c" stroke-width="1.0" stroke-linecap="square"/>
<line x1="647.2" y1="345.9" x2="658.25" y2="345.9" stroke="#a02c2c" stroke-width="1.0" stroke-linecap="square"/>
<line x1="658.25" y1="323.1" x2="658.25" y2="345.9" stroke="#a02c2c" stroke-width="1.0" stroke-linecap="square"/>
<line x1="653.1" y1="332.4" x2="662.5" y2="332.4" stroke="#a02c2c" stroke-width="1.0" stroke-linecap="square"/>
<polygon points="658.25,332.6 655.3000000000001,338.0 661.4000000000001,338.0" fill="#ffffff" stroke="#a02c2c" stroke-width="1.0"/>
<polygon points="635.4000000000001,334.5 638.0,332.5 638.0,336.5" fill="#a02c2c"/>
<polygon points="638.0,334.5 642.6,332.1 642.6,336.9" fill="none" stroke="#a02c2c" stroke-width="0.9"/>
<text x="663.4" y="328.9" fill="#26268f" font-size="8.6" font-family="Liberation Sans" textLength="10.4" lengthAdjust="spacingAndGlyphs" stroke="#26268f" stroke-width="0.22">Q4</text>
<text x="663.9" y="339.5" fill="#26268f" font-size="8.8" font-family="Liberation Sans" textLength="31.4" lengthAdjust="spacingAndGlyphs" stroke="#26268f" stroke-width="0.22">SNR6890</text>
<text x="697.0" y="339.5" fill="#26268f" font-size="8.8" font-family="Liberation Sans" textLength="29.1" lengthAdjust="spacingAndGlyphs" stroke="#26268f" stroke-width="0.22">NTO252</text>
<text x="554.0" y="327.2" fill="#26268f" font-size="9.2" font-family="Liberation Serif" textLength="15.5" lengthAdjust="spacing" stroke="#26268f" stroke-width="0.18">R10</text>
<line x1="543.9" y1="449.5" x2="554.9" y2="449.5" stroke="#383838" stroke-width="1.0" stroke-linecap="square"/>
<line x1="554.9" y1="449.5" x2="559.9" y2="449.5" stroke="#2424ff" stroke-width="0.9" stroke-linecap="square"/>
<polyline points="559.9,449.5 561.0,447.1 563.4,451.9 565.8,447.1 568.1999999999999,451.9 570.6,447.1 573.0,451.9 574.1,449.5" fill="none" stroke="#2424ff" stroke-width="0.9" stroke-linejoin="miter" stroke-linecap="square"/>
<line x1="574.1" y1="449.5" x2="578.9" y2="449.5" stroke="#2424ff" stroke-width="0.9" stroke-linecap="square"/>
<line x1="578.9" y1="449.5" x2="589.6999999999999" y2="449.5" stroke="#383838" stroke-width="1.0" stroke-linecap="square"/>
<line x1="590" y1="449.5" x2="624.1" y2="449.5" stroke="#262696" stroke-width="1.0" stroke-linecap="square"/>
<line x1="624.1" y1="449.5" x2="633.45" y2="449.5" stroke="#a02c2c" stroke-width="1.0" stroke-linecap="square"/>
<line x1="633.45" y1="439.7" x2="633.45" y2="459.5" stroke="#a02c2c" stroke-width="1.1" stroke-linecap="square"/>
<line x1="635.2" y1="440.0" x2="635.2" y2="443.7" stroke="#a02c2c" stroke-width="1.1" stroke-linecap="square"/>
<line x1="635.2" y1="446.9" x2="635.2" y2="452.2" stroke="#a02c2c" stroke-width="1.1" stroke-linecap="square"/>
<line x1="635.2" y1="455.1" x2="635.2" y2="459.4" stroke="#a02c2c" stroke-width="1.1" stroke-linecap="square"/>
<line x1="647.2" y1="427.5" x2="647.2" y2="441.5" stroke="#a02c2c" stroke-width="1.0" stroke-linecap="square"/>
<line x1="635.2" y1="441.5" x2="647.2" y2="441.5" stroke="#a02c2c" stroke-width="1.0" stroke-linecap="square"/>
<line x1="647.2" y1="438.1" x2="658.25" y2="438.1" stroke="#a02c2c" stroke-width="1.0" stroke-linecap="square"/>
<line x1="635.2" y1="449.5" x2="647.2" y2="449.5" stroke="#a02c2c" stroke-width="1.0" stroke-linecap="square"/>
<line x1="647.2" y1="449.5" x2="647.2" y2="471.8" stroke="#a02c2c" stroke-width="1.0" stroke-linecap="square"/>
<line x1="635.2" y1="457.8" x2="647.2" y2="457.8" stroke="#a02c2c" stroke-width="1.0" stroke-linecap="square"/>
<line x1="647.2" y1="460.9" x2="658.25" y2="460.9" stroke="#a02c2c" stroke-width="1.0" stroke-linecap="square"/>
<line x1="658.25" y1="438.1" x2="658.25" y2="460.9" stroke="#a02c2c" stroke-width="1.0" stroke-linecap="square"/>
<line x1="653.1" y1="447.4" x2="662.5" y2="447.4" stroke="#a02c2c" stroke-width="1.0" stroke-linecap="square"/>
<polygon points="658.25,447.6 655.3000000000001,453.0 661.4000000000001,453.0" fill="#ffffff" stroke="#a02c2c" stroke-width="1.0"/>
<polygon points="635.4000000000001,449.5 638.0,447.5 638.0,451.5" fill="#a02c2c"/>
<polygon points="638.0,449.5 642.6,447.1 642.6,451.9" fill="none" stroke="#a02c2c" stroke-width="0.9"/>
<text x="663.4" y="443.9" fill="#26268f" font-size="8.6" font-family="Liberation Sans" textLength="10.4" lengthAdjust="spacingAndGlyphs" stroke="#26268f" stroke-width="0.22">Q5</text>
<text x="663.9" y="454.5" fill="#26268f" font-size="8.8" font-family="Liberation Sans" textLength="31.4" lengthAdjust="spacingAndGlyphs" stroke="#26268f" stroke-width="0.22">SNR6890</text>
<text x="697.0" y="454.5" fill="#26268f" font-size="8.8" font-family="Liberation Sans" textLength="29.1" lengthAdjust="spacingAndGlyphs" stroke="#26268f" stroke-width="0.22">NTO252</text>
<text x="554.0" y="442.2" fill="#26268f" font-size="9.2" font-family="Liberation Serif" textLength="15.5" lengthAdjust="spacing" stroke="#26268f" stroke-width="0.18">R17</text>
<line x1="543.9" y1="541.3" x2="554.9" y2="541.3" stroke="#383838" stroke-width="1.0" stroke-linecap="square"/>
<line x1="554.9" y1="541.3" x2="559.9" y2="541.3" stroke="#2424ff" stroke-width="0.9" stroke-linecap="square"/>
<polyline points="559.9,541.3 561.0,538.9 563.4,543.6999999999999 565.8,538.9 568.1999999999999,543.6999999999999 570.6,538.9 573.0,543.6999999999999 574.1,541.3" fill="none" stroke="#2424ff" stroke-width="0.9" stroke-linejoin="miter" stroke-linecap="square"/>
<line x1="574.1" y1="541.3" x2="578.9" y2="541.3" stroke="#2424ff" stroke-width="0.9" stroke-linecap="square"/>
<line x1="578.9" y1="541.3" x2="589.6999999999999" y2="541.3" stroke="#383838" stroke-width="1.0" stroke-linecap="square"/>
<line x1="590" y1="541.3" x2="624.1" y2="541.3" stroke="#262696" stroke-width="1.0" stroke-linecap="square"/>
<line x1="624.1" y1="541.3" x2="633.45" y2="541.3" stroke="#a02c2c" stroke-width="1.0" stroke-linecap="square"/>
<line x1="633.45" y1="531.5" x2="633.45" y2="551.3" stroke="#a02c2c" stroke-width="1.1" stroke-linecap="square"/>
<line x1="635.2" y1="531.8" x2="635.2" y2="535.5" stroke="#a02c2c" stroke-width="1.1" stroke-linecap="square"/>
<line x1="635.2" y1="538.6999999999999" x2="635.2" y2="544.0" stroke="#a02c2c" stroke-width="1.1" stroke-linecap="square"/>
<line x1="635.2" y1="546.9" x2="635.2" y2="551.1999999999999" stroke="#a02c2c" stroke-width="1.1" stroke-linecap="square"/>
<line x1="647.2" y1="519.3" x2="647.2" y2="533.3" stroke="#a02c2c" stroke-width="1.0" stroke-linecap="square"/>
<line x1="635.2" y1="533.3" x2="647.2" y2="533.3" stroke="#a02c2c" stroke-width="1.0" stroke-linecap="square"/>
<line x1="647.2" y1="529.9" x2="658.25" y2="529.9" stroke="#a02c2c" stroke-width="1.0" stroke-linecap="square"/>
<line x1="635.2" y1="541.3" x2="647.2" y2="541.3" stroke="#a02c2c" stroke-width="1.0" stroke-linecap="square"/>
<line x1="647.2" y1="541.3" x2="647.2" y2="563.5999999999999" stroke="#a02c2c" stroke-width="1.0" stroke-linecap="square"/>
<line x1="635.2" y1="549.5999999999999" x2="647.2" y2="549.5999999999999" stroke="#a02c2c" stroke-width="1.0" stroke-linecap="square"/>
<line x1="647.2" y1="552.6999999999999" x2="658.25" y2="552.6999999999999" stroke="#a02c2c" stroke-width="1.0" stroke-linecap="square"/>
<line x1="658.25" y1="529.9" x2="658.25" y2="552.6999999999999" stroke="#a02c2c" stroke-width="1.0" stroke-linecap="square"/>
<line x1="653.1" y1="539.1999999999999" x2="662.5" y2="539.1999999999999" stroke="#a02c2c" stroke-width="1.0" stroke-linecap="square"/>
<polygon points="658.25,539.4 655.3000000000001,544.8 661.4000000000001,544.8" fill="#ffffff" stroke="#a02c2c" stroke-width="1.0"/>
<polygon points="635.4000000000001,541.3 638.0,539.3 638.0,543.3" fill="#a02c2c"/>
<polygon points="638.0,541.3 642.6,538.9 642.6,543.6999999999999" fill="none" stroke="#a02c2c" stroke-width="0.9"/>
<text x="663.4" y="535.6999999999999" fill="#26268f" font-size="8.6" font-family="Liberation Sans" textLength="10.4" lengthAdjust="spacingAndGlyphs" stroke="#26268f" stroke-width="0.22">Q6</text>
<text x="663.9" y="546.3" fill="#26268f" font-size="8.8" font-family="Liberation Sans" textLength="31.4" lengthAdjust="spacingAndGlyphs" stroke="#26268f" stroke-width="0.22">SNR6890</text>
<text x="697.0" y="546.3" fill="#26268f" font-size="8.8" font-family="Liberation Sans" textLength="29.1" lengthAdjust="spacingAndGlyphs" stroke="#26268f" stroke-width="0.22">NTO252</text>
<text x="554.0" y="534.0" fill="#26268f" font-size="9.2" font-family="Liberation Serif" textLength="15.5" lengthAdjust="spacing" stroke="#26268f" stroke-width="0.18">R22</text>
<line x1="641" y1="13.700000000000003" x2="652.6" y2="13.700000000000003" stroke="#a02c2c" stroke-width="1.1" stroke-linecap="square"/>
<line x1="647.2" y1="13.700000000000003" x2="647.2" y2="26.700000000000003" stroke="#a02c2c" stroke-width="1.0" stroke-linecap="square"/>
<text x="636.9" y="11.100000000000001" fill="#8c2020" font-size="8.0" font-family="Liberation Serif" textLength="19.0" lengthAdjust="spacing" stroke="#8c2020" stroke-width="0.3">VCC</text>
<line x1="641" y1="208.5" x2="652.6" y2="208.5" stroke="#a02c2c" stroke-width="1.1" stroke-linecap="square"/>
<line x1="647.2" y1="208.5" x2="647.2" y2="221.5" stroke="#a02c2c" stroke-width="1.0" stroke-linecap="square"/>
<text x="636.9" y="205.9" fill="#8c2020" font-size="8.0" font-family="Liberation Serif" textLength="19.0" lengthAdjust="spacing" stroke="#8c2020" stroke-width="0.3">VCC</text>
<line x1="641" y1="414.5" x2="652.6" y2="414.5" stroke="#a02c2c" stroke-width="1.1" stroke-linecap="square"/>
<line x1="647.2" y1="414.5" x2="647.2" y2="427.5" stroke="#a02c2c" stroke-width="1.0" stroke-linecap="square"/>
<text x="636.9" y="411.9" fill="#8c2020" font-size="8.0" font-family="Liberation Serif" textLength="19.0" lengthAdjust="spacing" stroke="#8c2020" stroke-width="0.3">VCC</text>
<line x1="647.2" y1="71.0" x2="647.2" y2="117.69999999999999" stroke="#262696" stroke-width="1.0" stroke-linecap="square"/>
<line x1="647.2" y1="265.8" x2="647.2" y2="312.5" stroke="#262696" stroke-width="1.0" stroke-linecap="square"/>
<line x1="647.2" y1="471.8" x2="647.2" y2="519.3" stroke="#262696" stroke-width="1.0" stroke-linecap="square"/>
<polyline points="647.2,162.0 647.2,185.6 715.8,185.6 715.8,597.7" fill="none" stroke="#262696" stroke-width="1.0" stroke-linejoin="miter" stroke-linecap="square"/>
<polyline points="647.2,356.8 647.2,380.5 715.8,380.5" fill="none" stroke="#262696" stroke-width="1.0" stroke-linejoin="miter" stroke-linecap="square"/>
<polyline points="647.2,563.5999999999999 647.2,587.3 715.8,587.3" fill="none" stroke="#262696" stroke-width="1.0" stroke-linejoin="miter" stroke-linecap="square"/>
<line x1="715.8" y1="597.7" x2="715.8" y2="605.5" stroke="#a02c2c" stroke-width="1.0" stroke-linecap="square"/>
<line x1="706.0999999999999" y1="605.5" x2="725.5" y2="605.5" stroke="#a02c2c" stroke-width="1.1" stroke-linecap="square"/>
<line x1="708.9499999999999" y1="608.4" x2="722.65" y2="608.4" stroke="#a02c2c" stroke-width="1.1" stroke-linecap="square"/>
<line x1="711.8" y1="611.2" x2="719.8" y2="611.2" stroke="#a02c2c" stroke-width="1.1" stroke-linecap="square"/>
<line x1="714.8" y1="614.4" x2="716.8" y2="614.4" stroke="#a02c2c" stroke-width="0.9" stroke-linecap="square"/>
<text x="706.2" y="621.8" fill="#8c2020" font-size="8.6" font-family="Liberation Serif" textLength="18.3" lengthAdjust="spacing" stroke="#8c2020" stroke-width="0.18">GND</text>
<text x="738.0" y="90.9" fill="#8c2020" font-size="8.6" font-family="Liberation Serif" textLength="6.5" lengthAdjust="spacing" stroke="#8c2020" stroke-width="0.18">U</text>
<text x="738.8" y="286.0" fill="#8c2020" font-size="8.6" font-family="Liberation Serif" textLength="6" lengthAdjust="spacing" stroke="#8c2020" stroke-width="0.18">V</text>
<text x="738.3" y="491.0" fill="#8c2020" font-size="8.8" font-family="Liberation Serif" textLength="8.8" lengthAdjust="spacing" stroke="#8c2020" stroke-width="0.18">W</text>
<circle cx="62.6" cy="82.7" r="2.4" fill="#000080"/>
<circle cx="96.5" cy="82.7" r="2.4" fill="#000080"/>
<circle cx="349" cy="82.7" r="2.4" fill="#000080"/>
<circle cx="394.6" cy="82.7" r="2.4" fill="#000080"/>
<circle cx="62.6" cy="197.5" r="2.4" fill="#000080"/>
<circle cx="62.6" cy="231.5" r="2.4" fill="#000080"/>
<circle cx="349" cy="323.5" r="2.4" fill="#000080"/>
<circle cx="349" cy="357.5" r="2.4" fill="#000080"/>
<circle cx="394.6" cy="266.5" r="2.4" fill="#000080"/>
<circle cx="394.6" cy="300.5" r="2.4" fill="#000080"/>
<circle cx="440.5" cy="208.5" r="2.4" fill="#000080"/>
<circle cx="440.5" cy="243.5" r="2.4" fill="#000080"/>
<circle cx="647.2" cy="93.7" r="2.4" fill="#000080"/>
<circle cx="647.2" cy="288.5" r="2.4" fill="#000080"/>
<circle cx="647.2" cy="495.4" r="2.4" fill="#000080"/>
<circle cx="715.8" cy="380.5" r="2.4" fill="#000080"/>
<circle cx="715.8" cy="587.3" r="2.4" fill="#000080"/>
</svg>
</body></html>
